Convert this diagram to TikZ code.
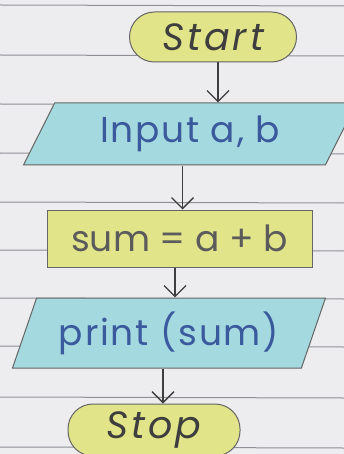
\documentclass[tikz,border=0pt]{standalone}
\usepackage{fontspec}
\setmainfont{Poppins}
\usetikzlibrary{shapes.geometric,arrows.meta}
\definecolor{paper}{HTML}{EDECEE}
\definecolor{ruleline}{HTML}{8F8F98}
\definecolor{yel}{HTML}{E2E489}
\definecolor{cya}{HTML}{A4DADF}
\definecolor{ink}{HTML}{3E3E3E}
\definecolor{blueink}{HTML}{3B5A9E}
\begin{document}
\begin{tikzpicture}[x=1pt,y=-1pt,
  box/.style={draw=ink!80, line width=1pt, inner sep=0pt},
  term/.style={box, fill=yel, rounded corners=25pt, text=ink, font=\fontsize{38}{40}\selectfont\itshape\addfontfeature{LetterSpace=8}},
  io/.style={box, fill=cya, trapezium, trapezium stretches=true, text=blueink, font=\fontsize{36}{38}\selectfont\addfontfeature{LetterSpace=5}},
  proc/.style={box, fill=yel, text=ink!85, font=\fontsize{36}{38}\selectfont},
  arr/.style={draw=ink, line width=1.4pt, -{Straight Barb[length=11pt,width=22pt,line width=1.4pt]}}]
\useasboundingbox (0,0) rectangle (344,454);
\fill[paper] (0,0) rectangle (344,454);
\foreach \y in {5,55,104,153,202,250,298,346,397,447}
  \draw[ruleline, line width=1pt] (0,\y) -- (344,\y+1);
\node[term, minimum width=167pt, minimum height=50pt] (start) at (213,37) {Start};
\node[io, trapezium left angle=60, trapezium right angle=120, minimum width=334pt, minimum height=62pt] (input) at (190,134) {Input a, b};
\node[proc, minimum width=265pt, minimum height=57pt] (sum) at (179.5,238.5) {sum = a + b};
\node[io, trapezium left angle=65, trapezium right angle=115, minimum width=314pt, minimum height=70pt] (print) at (169,333) {print (sum)};
\node[term, minimum width=172pt, minimum height=52pt] (stop) at (154,430) {Stop};
\draw[arr] ([xshift=5pt]start.south) -- ([xshift=5pt]start.south |- input.north);
\draw[arr] ([xshift=3pt]sum.north |- input.south) -- ([xshift=3pt]sum.north);
\draw[arr] ([xshift=-4.5pt]sum.south) -- ([xshift=-4.5pt]sum.south |- print.north);
\draw[arr] ([xshift=9pt]stop.north |- print.south) -- ([xshift=9pt]stop.north);
\end{tikzpicture}
\end{document}
